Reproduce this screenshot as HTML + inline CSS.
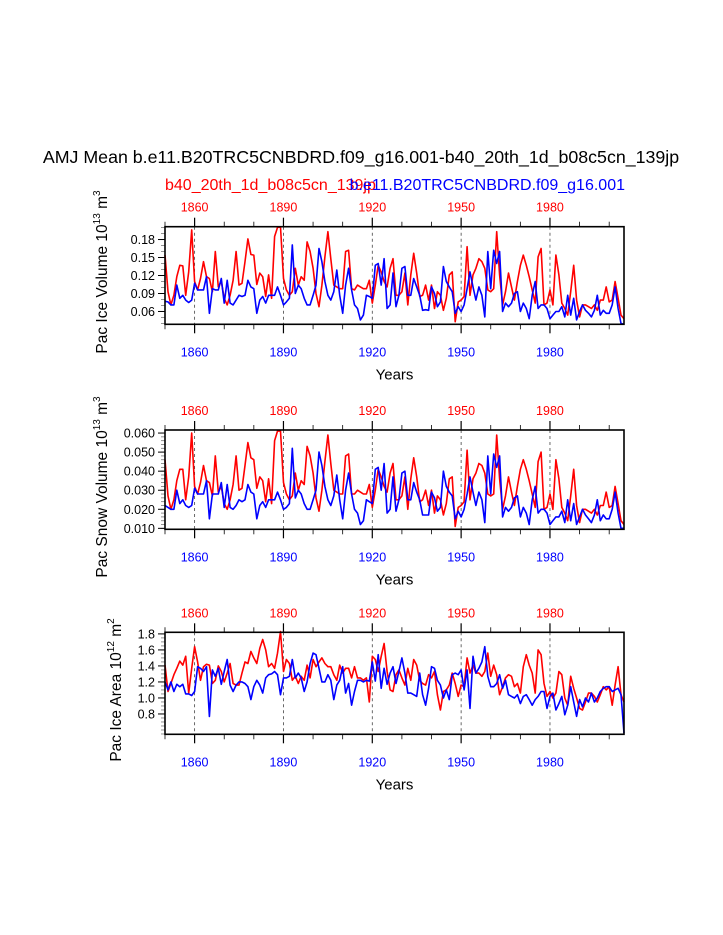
<!DOCTYPE html>
<html><head><meta charset="utf-8"><style>
body{margin:0;background:#fff;width:723px;height:935px;overflow:hidden}
svg{display:block;font-family:"Liberation Sans",sans-serif}
</style></head><body>
<svg id="chart" width="723" height="935">
<text x="361" y="163" font-size="17.8" text-anchor="middle">AMJ Mean b.e11.B20TRC5CNBDRD.f09_g16.001-b40_20th_1d_b08c5cn_139jp</text>
<text x="165" y="190" font-size="16" fill="#ff0000">b40_20th_1d_b08c5cn_139jp</text>
<text x="625" y="190" font-size="16" fill="#0000ff" text-anchor="end">b.e11.B20TRC5CNBDRD.f09_g16.001</text>
</svg>
<script>
const years0 = 1850;
const xTicksMajor = [1860, 1890, 1920, 1950, 1980];
const iceVolRed = [.154,.093,.071,.087,.118,.137,.136,.087,.126,.196,.110,.096,.115,.143,.118,.115,.093,.160,.101,.110,.082,.071,.087,.112,.160,.104,.107,.143,.181,.155,.154,.105,.124,.118,.085,.121,.082,.185,.200,
.201,.115,.096,.087,.093,.132,.104,.118,.112,.176,.160,.132,.090,.068,.104,.151,.193,.148,.104,.101,.098,.098,.160,.162,.098,.096,.104,.101,.098,.098,.112,
.074,.104,.137,.126,.110,.101,.132,.148,.087,.087,.093,.124,.071,.121,.157,.124,.085,.087,.104,.079,.104,.065,.093,.087,.062,.082,.121,.126,.043,.076,.079,.085,.168,.087,.121,.132,.148,.143,.132,.096,.093,.098,.193,.121,.071,.093,.124,.101,.079,.110,.137,.154,.137,.118,.096,.074,.151,.165,.071,.074,.096,.071,.154,.121,.074,.065,.054,.093,.137,.079,.051,.071,.071,.068,.065,.071,.062,.079,.079,.101,.076,.079,.110,.082,.054,.048];
const iceVolBlue = [.077,.076,.071,.071,.104,.082,.087,.079,.075,.079,.107,.096,.096,.096,.118,.057,.098,.096,.096,.115,.074,.112,.074,.071,.079,.087,.085,.087,.112,.101,.098,.057,.079,.085,.074,.087,.087,.087,.101,
.087,.071,.076,.082,.171,.090,.104,.098,.082,.071,.071,.087,.104,.165,.143,.110,.087,.079,.093,.129,.087,.057,.104,.132,.096,.071,.065,.046,.054,.087,.085,
.082,.137,.140,.104,.148,.065,.071,.124,.068,.087,.132,.135,.087,.087,.115,.101,.087,.062,.063,.062,.101,.090,.068,.076,.135,.110,.101,.093,.057,.068,.060,.071,.098,.126,.101,.079,.101,.087,.051,.160,.098,.162,.140,.160,.060,.074,.068,.074,.090,.093,.060,.074,.065,.048,.087,.110,.065,.071,.071,.065,.048,.054,.060,.060,.068,.051,.087,.054,.082,.046,.060,.071,.062,.057,.051,.062,.087,.054,.062,.057,.057,.071,.101,.065,.040,.039];
const snowRed = [.046,.027,.020,.025,.035,.041,.041,.025,.037,.060,.032,.028,.034,.043,.035,.034,.027,.048,.029,.032,.023,.020,.025,.033,.048,.030,.031,.043,.055,.047,.046,.031,.037,.035,.024,.036,.023,.056,.061,
.061,.034,.028,.025,.027,.039,.030,.035,.033,.053,.048,.039,.026,.019,.030,.045,.059,.044,.030,.029,.028,.028,.048,.049,.028,.028,.030,.029,.028,.028,.033,
.021,.030,.041,.037,.032,.029,.039,.044,.025,.025,.027,.037,.020,.036,.047,.037,.024,.025,.030,.022,.030,.018,.027,.025,.017,.023,.036,.037,.011,.021,.022,.024,.051,.025,.036,.039,.044,.043,.039,.028,.027,.028,.059,.036,.020,.027,.037,.029,.022,.032,.041,.046,.041,.035,.028,.021,.045,.050,.020,.021,.028,.020,.046,.036,.021,.018,.014,.027,.041,.022,.013,.020,.020,.019,.018,.020,.017,.022,.022,.029,.021,.022,.032,.023,.014,.012];
const snowBlue = [.022,.021,.020,.020,.030,.023,.025,.022,.021,.022,.031,.028,.028,.028,.035,.015,.028,.028,.028,.034,.021,.033,.021,.020,.022,.025,.024,.025,.033,.029,.028,.015,.022,.024,.021,.025,.025,.025,.029,
.025,.020,.021,.023,.052,.026,.030,.028,.023,.020,.020,.025,.030,.050,.043,.032,.025,.022,.027,.038,.025,.015,.030,.039,.028,.020,.018,.012,.014,.025,.024,
.023,.041,.042,.030,.044,.018,.020,.037,.019,.025,.039,.040,.025,.025,.034,.029,.025,.017,.017,.017,.029,.026,.019,.021,.040,.032,.029,.027,.015,.019,.016,.020,.028,.037,.029,.022,.029,.025,.013,.048,.028,.049,.042,.048,.016,.021,.019,.021,.026,.027,.016,.021,.018,.012,.025,.032,.018,.020,.020,.018,.012,.014,.016,.016,.019,.013,.025,.014,.023,.012,.016,.020,.017,.015,.013,.017,.025,.014,.017,.015,.015,.020,.029,.018,.010,.010];
const areaRed = [1.41,1.08,1.18,1.29,1.37,1.46,1.41,1.52,1.06,1.37,1.64,1.45,1.22,1.39,1.42,1.41,1.18,1.22,1.40,1.33,1.20,1.31,1.43,1.18,1.16,1.16,1.31,1.45,1.43,1.58,1.50,1.43,1.62,1.73,1.60,1.39,1.43,1.37,1.56,1.83,1.33,1.48,1.43,1.22,1.27,1.18,1.27,1.22,1.41,1.25,1.48,1.39,1.45,1.50,1.43,1.39,1.39,1.29,1.22,1.41,1.31,1.37,1.37,1.25,1.39,1.25,1.25,1.22,1.25,0.95,
1.52,1.48,1.33,1.52,1.68,1.33,1.10,1.08,1.29,1.35,1.25,1.16,1.37,1.22,1.48,1.41,1.22,1.18,1.16,1.29,1.25,1.33,1.04,0.85,1.08,1.10,1.16,1.31,1.18,1.02,1.16,1.14,1.50,1.31,1.41,1.31,1.31,1.27,1.33,1.56,1.27,1.41,1.29,1.04,1.14,1.25,1.29,1.27,1.14,1.18,1.06,1.39,1.54,1.41,1.31,1.06,1.60,1.54,1.18,1.02,1.08,1.00,1.06,1.33,1.29,1.00,0.91,1.27,1.12,1.00,0.87,0.85,0.95,1.06,1.06,1.02,0.95,1.04,1.14,1.10,1.14,0.91,1.16,1.39,1.04,0.95];
const areaBlue = [1.20,1.10,1.20,1.08,1.17,1.14,1.17,1.05,1.05,1.03,1.08,1.39,1.37,1.33,1.39,0.77,1.35,1.27,1.37,1.17,1.33,1.48,1.16,1.08,1.16,1.20,1.20,1.18,1.14,0.98,1.14,1.22,1.16,1.06,1.25,1.29,1.30,1.33,1.29,1.04,1.25,1.25,1.27,1.48,1.25,1.31,1.25,1.08,1.20,1.43,1.56,1.54,1.37,1.20,1.20,1.29,1.22,0.98,1.16,1.22,1.39,1.06,1.18,0.91,1.08,1.22,1.22,1.20,1.22,1.21,
1.45,1.21,1.54,1.12,1.37,1.17,1.31,1.39,1.18,1.33,1.50,1.31,1.06,1.06,1.04,1.02,1.31,1.04,0.91,1.12,1.39,1.37,1.22,1.16,1.00,1.10,0.98,1.29,1.31,1.29,1.35,1.10,1.35,0.87,1.52,1.31,1.37,1.45,1.64,1.27,1.14,1.14,1.18,1.29,1.12,1.22,1.04,1.02,1.00,1.04,0.93,1.02,1.04,0.98,0.91,0.98,1.02,1.08,1.08,0.87,1.02,1.06,0.85,0.93,1.02,0.79,0.91,1.14,0.95,0.77,0.98,0.89,1.00,0.95,1.06,0.95,1.00,1.08,1.12,1.14,1.14,1.08,1.10,1.12,1.04,0.56];
const iceVolTicks = [0.06,0.09,0.12,0.15,0.18];
const snowTicks = [0.010,0.020,0.030,0.040,0.050,0.060];
const areaTicks = [0.8,1.0,1.2,1.4,1.6,1.8];

const svg = document.getElementById('chart');
const NS = 'http://www.w3.org/2000/svg';
function mk(tag, attrs, parent){const e=document.createElementNS(NS,tag);for(const k in attrs)e.setAttribute(k,attrs[k]);(parent||svg).appendChild(e);return e;}
const X0=165, X1=624, XMIN=1850, XMAX=2005;
function xs(yr){return X0+(yr-XMIN)/(XMAX-XMIN)*(X1-X0);}

const panels = [
 {key:'ice-volume', top:226.7, bot:324.3, ymin:0.0386, ymax:0.2014, red:iceVolRed, blue:iceVolBlue, ticks:iceVolTicks, dec:2, minor:0.01, title:'Pac Ice Volume 10', exp:'13', unit:'m', uexp:'3', tx:107, cy:272},
 {key:'snow-volume', top:430, bot:529.3, ymin:0.0095, ymax:0.0616, red:snowRed, blue:snowBlue, ticks:snowTicks, dec:3, minor:0.002, title:'Pac Snow Volume 10', exp:'13', unit:'m', uexp:'3', tx:107, cy:487},
 {key:'ice-area', top:632.3, bot:734.3, ymin:0.546, ymax:1.82, red:areaRed, blue:areaBlue, ticks:areaTicks, dec:1, minor:0.05, title:'Pac Ice Area 10', exp:'12', unit:'m', uexp:'2', tx:121, cy:690}
];
panels.forEach(p=>{
  const g = mk('g',{});
  
  
  const ys = v => p.bot-(v-p.ymin)/(p.ymax-p.ymin)*(p.bot-p.top);
  xTicksMajor.forEach(yr=>{
    const l=mk('line',{x1:xs(yr),x2:xs(yr),y1:p.top,y2:p.bot,stroke:'#444','stroke-width':0.8,'stroke-dasharray':'3,3'},g);
    
    
  });
  for(let yr=1850; yr<=2000; yr+=10){
    const maj = xTicksMajor.includes(yr);
    const len = maj?9:5;
    mk('line',{x1:xs(yr),x2:xs(yr),y1:p.top,y2:p.top-len,stroke:'#000','stroke-width':maj?1.2:0.8},g);
    mk('line',{x1:xs(yr),x2:xs(yr),y1:p.bot,y2:p.bot+len,stroke:'#000','stroke-width':maj?1.2:0.8},g);
  }
  xTicksMajor.forEach(yr=>{
    const t=mk('text',{x:xs(yr),y:p.top-15,'font-size':12.5,fill:'#ff0000','text-anchor':'middle'},g);
    t.textContent=yr;
    
    
    const b=mk('text',{x:xs(yr),y:p.bot+32,'font-size':12.5,fill:'#0000ff','text-anchor':'middle'},g);
    b.textContent=yr;
    
    
  });
  for(let v=Math.ceil(p.ymin/p.minor)*p.minor; v<=p.ymax; v+=p.minor){
    mk('line',{x1:X0,x2:X0-4,y1:ys(v),y2:ys(v),stroke:'#777','stroke-width':0.8},g);
  }
  p.ticks.forEach(v=>{
    mk('line',{x1:X0,x2:X0-7,y1:ys(v),y2:ys(v),stroke:'#000','stroke-width':1},g);
    const t=mk('text',{x:X0-10,y:ys(v)+4.5,'font-size':12.5,'text-anchor':'end'},g);
    t.textContent=v.toFixed(p.dec);
    
    
  });
  [['red',p.red,'#ff0000'],['blue',p.blue,'#0000ff']].forEach(([nm,arr,col])=>{
    const pts=arr.map((v,i)=>xs(XMIN+i).toFixed(1)+','+ys(v).toFixed(1)).join(' ');
    const pl=mk('polyline',{points:pts,fill:'none',stroke:col,'stroke-width':1.6,'stroke-linejoin':'round'},g);
    
    
  });
  const fr=mk('rect',{x:X0,y:p.top,width:X1-X0,height:p.bot-p.top,fill:'none',stroke:'#000','stroke-width':1.6},g);
  
  
  const xt=mk('text',{x:(X0+X1)/2,y:p.bot+55,'font-size':15,'text-anchor':'middle'},g);
  xt.textContent='Years';
  
  
  const cy=p.cy;
  const yt=mk('text',{x:p.tx,y:cy,'font-size':15.5,'text-anchor':'middle',transform:'rotate(-90 '+p.tx+' '+cy+')'},g);
  
  
  yt.innerHTML=p.title+'<tspan font-size="10" dy="-7">'+p.exp+'</tspan><tspan dy="7"> '+p.unit+'</tspan><tspan font-size="10" dy="-7">'+p.uexp+'</tspan>';
});
</script>
</body></html>
